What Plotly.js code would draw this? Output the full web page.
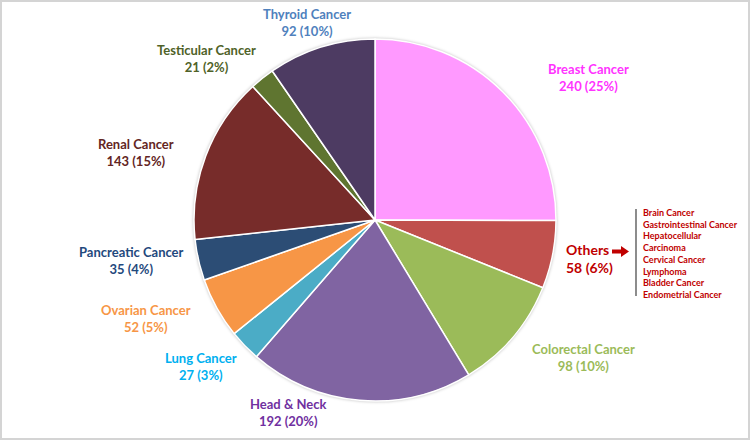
<!DOCTYPE html>
<html>
<head>
<meta charset="utf-8">
<script src="https://cdn.plot.ly/plotly-3.0.1.min.js"></script>
<style>
  html, body { margin: 0; padding: 0; background: #fff; }
  #wrap { position: relative; width: 750px; height: 440px; }
  #chart { width: 750px; height: 440px; }
  #frame { position: absolute; left: 0; top: 0; width: 746px; height: 436px;
           border: 2px solid #d4d4d4; pointer-events: none; }
  #chart .pielayer { filter: drop-shadow(0 0 1.5px rgba(0, 0, 0, 0.25)); }
</style>
</head>
<body>
<div id="wrap">
  <div id="chart"></div>
  <div id="frame"></div>
</div>
<script>
// Cancer types, in clockwise order starting from 12 o'clock
const cancerTypes = ["Breast Cancer", "Others", "Colorectal Cancer", "Head & Neck",
  "Lung Cancer", "Ovarian Cancer", "Pancreatic Cancer", "Renal Cancer",
  "Testicular Cancer", "Thyroid Cancer"];
const patientCounts = [240, 58, 98, 192, 27, 52, 35, 143, 21, 92];

// Types grouped under "Others"
const otherTypes = ["Brain Cancer", "Gastrointestinal Cancer", "Hepatocellular",
  "Carcinoma", "Cervical Cancer", "Lymphoma", "Bladder Cancer", "Endometrial Cancer"];

// Styling
const sliceColors = ["#FF99FF", "#C0504D", "#9BBB59", "#8064A2", "#4BACC6",
  "#F79646", "#2C4D75", "#772C2A", "#5F7530", "#4D3B62"];
const labelColors = ["#FF33FF", "#C00000", "#9BBB59", "#7030A0", "#00B0F0",
  "#F79646", "#1F497D", "#632523", "#4F6228", "#4F81BD"];
// Label centres in pixels (x, y of the two-line block)
const labelPos = [[588, 77], [564, 258], [583, 357], [288, 412], [201, 366],
  [146, 318], [131, 260], [136, 153], [206, 58], [307, 23]];

const W = 750, H = 440;
const px = v => v / W;          // pixel x -> paper x
const py = v => 1 - v / H;      // pixel y -> paper y
const total = patientCounts.reduce((a, b) => a + b, 0);
const font = "Lato, 'Open Sans', sans-serif";

const trace = {
  type: "pie",
  labels: cancerTypes,
  values: patientCounts,
  sort: false,
  direction: "clockwise",
  rotation: 0,
  textinfo: "none",
  hoverinfo: "label+value+percent",
  marker: { colors: sliceColors, line: { color: "#ffffff", width: 1.5 } },
  domain: { x: [px(194), px(556)], y: [py(401), py(39)] },
  showlegend: false
};

const annotations = cancerTypes.map((name, i) => {
  const pct = Math.round(patientCounts[i] / total * 100);
  const isOthers = name === "Others";
  return {
    xref: "paper", yref: "paper",
    x: px(labelPos[i][0]), y: py(labelPos[i][1]),
    xanchor: isOthers ? "left" : "center", yanchor: "middle",
    align: isOthers ? "left" : "center",
    showarrow: false,
    text: "<b>" + name + "<br>" + patientCounts[i] + " (" + pct + "%)</b>",
    font: { family: font, size: isOthers ? 14 : 13, color: labelColors[i] }
  };
});

// List of grouped types
annotations.push({
  xref: "paper", yref: "paper",
  x: px(641), y: py(253.5), xanchor: "left", yanchor: "middle", align: "left",
  showarrow: false,
  text: otherTypes.map(t => "<b>" + t + "</b>").join("<br>"),
  font: { family: font, size: 9, color: "#C00000" }
});

// Block arrow from "Others" towards the list
const arrowPath = "M" + px(612) + "," + py(249.5) +
  " L" + px(621) + "," + py(249.5) +
  " L" + px(621) + "," + py(246) +
  " L" + px(629) + "," + py(251.5) +
  " L" + px(621) + "," + py(257) +
  " L" + px(621) + "," + py(253.5) +
  " L" + px(612) + "," + py(253.5) + " Z";

const layout = {
  width: W, height: H,
  margin: { l: 0, r: 0, t: 0, b: 0 },
  paper_bgcolor: "#ffffff",
  annotations: annotations,
  shapes: [
    {
      type: "line", xref: "paper", yref: "paper",
      x0: px(636), x1: px(636), y0: py(209), y1: py(296),
      line: { color: "#404040", width: 1.2 }
    },
    {
      type: "path", xref: "paper", yref: "paper", path: arrowPath,
      fillcolor: "#C00000", line: { width: 0 }
    }
  ]
};

Plotly.newPlot("chart", [trace], layout, { displayModeBar: false, staticPlot: true });
</script>
</body>
</html>
